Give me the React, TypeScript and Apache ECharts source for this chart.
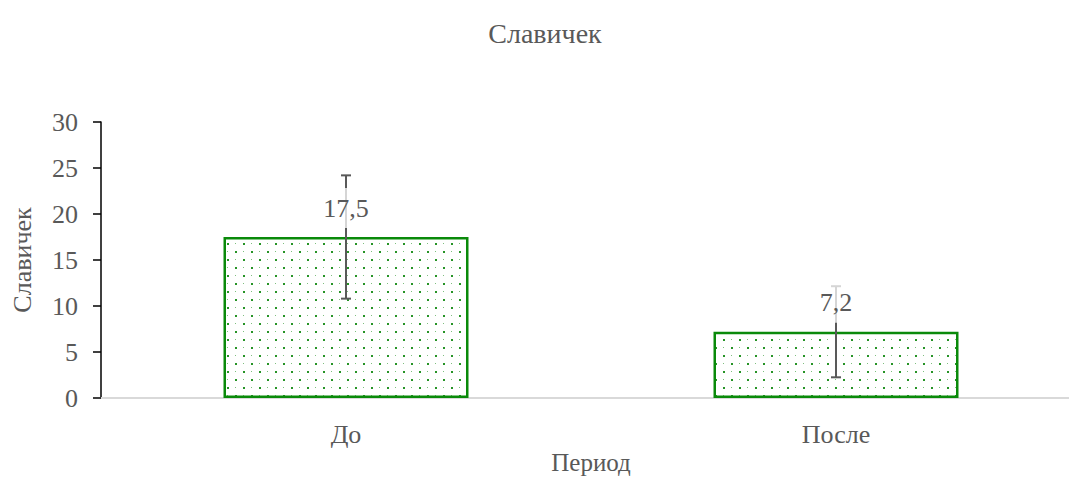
import React, { useEffect, useRef } from "react";
import * as echarts from "echarts";

const titleText = "Славичек";
const yAxisName = "Славичек";
const xAxisName = "Период";
const categories = ["До", "После"];
const values = [17.5, 7.2];
const errors = [6.7, 4.95];
const yTicks = { min: 0, max: 30, interval: 5 };

const FONT = "Liberation Serif, serif";
const GRAY = "#595959";

function makePattern(): HTMLCanvasElement {
  const c = document.createElement("canvas");
  c.width = 16;
  c.height = 16;
  const ctx = c.getContext("2d")!;
  ctx.fillStyle = "#ffffff";
  ctx.fillRect(0, 0, 16, 16);
  ctx.fillStyle = "rgba(0,128,0,0.85)";
  ctx.fillRect(3, 3, 2, 2);
  ctx.fillRect(11, 11, 2, 2);
  ctx.fillStyle = "rgba(0,128,0,0.5)";
  ctx.fillRect(11, 3, 1, 1);
  ctx.fillRect(3, 11, 1, 1);
  return c;
}

export default function App() {
  const ref = useRef<HTMLDivElement>(null);
  useEffect(() => {
    if (!ref.current) return;
    const chart = echarts.init(ref.current, null, { renderer: "svg" });
    const pattern = makePattern();
    const option: any = {
      animation: false,
      backgroundColor: "#ffffff",
      textStyle: { fontFamily: FONT },
      title: {
        text: titleText,
        left: 540,
        textAlign: "center",
        top: 14,
        textStyle: { fontFamily: FONT, fontSize: 28, fontWeight: "normal", color: GRAY },
      },
      grid: { left: 101, top: 122, width: 980, height: 276, outerBoundsMode: "none", containLabel: false },
      xAxis: {
        type: "category",
        data: categories,
        name: xAxisName,
        nameLocation: "middle",
        nameGap: 52,
        nameMoveOverlap: false,
        nameTextStyle: { fontFamily: FONT, fontSize: 25, color: GRAY, lineHeight: 25 },
        axisLine: { lineStyle: { color: "#d9d9d9", width: 2 } },
        axisTick: { show: false },
        axisLabel: { fontFamily: FONT, fontSize: 26, color: GRAY, margin: 23 },
      },
      yAxis: {
        type: "value",
        min: yTicks.min,
        max: yTicks.max,
        interval: yTicks.interval,
        name: yAxisName,
        nameLocation: "middle",
        nameGap: 66,
        nameTextStyle: { fontFamily: FONT, fontSize: 26, color: GRAY },
        axisLine: { show: true, lineStyle: { color: "#000000", width: 1.5 } },
        axisTick: { show: true, inside: false, length: 8, lineStyle: { color: "#000000", width: 1.5 } },
        axisLabel: { fontFamily: FONT, fontSize: 26, color: GRAY, margin: 23 },
        splitLine: { show: false },
      },
      series: [
        {
          type: "bar",
          data: values,
          barWidth: "50%",
          itemStyle: {
            color: { image: pattern, repeat: "repeat" },
            borderColor: "#0a8a0a",
            borderWidth: 2.5,
          },
          z: 2,
        },
        {
          type: "custom",
          z: 5,
          data: categories.map((c, i) => [i, values[i], errors[i]]),
          encode: { x: 0, y: 1 },
          renderItem: (params: any, api: any) => {
            const x = api.value(0);
            const v = api.value(1);
            const e = api.value(2);
            const hi = api.coord([x, v + e]);
            const lo = api.coord([x, v - e]);
            const top = api.coord([x, v]);
            const cw = 5;
            const ls = { stroke: "#595959", lineWidth: 2 };
            return {
              type: "group",
              children: [
                { type: "line", shape: { x1: hi[0], y1: hi[1], x2: lo[0], y2: lo[1] }, style: ls },
                { type: "line", shape: { x1: hi[0] - cw, y1: hi[1], x2: hi[0] + cw, y2: hi[1] }, style: ls },
                { type: "line", shape: { x1: lo[0] - cw, y1: lo[1], x2: lo[0] + cw, y2: lo[1] }, style: ls },
                {
                  type: "text",
                  style: {
                    text: String(v).replace(".", ","),
                    x: top[0],
                    y: top[1] - 29,
                    align: "center",
                    verticalAlign: "middle",
                    fontFamily: FONT,
                    fontSize: 26,
                    fill: GRAY,
                    backgroundColor: "rgba(255,255,255,0.75)",
                    padding: [8, 3, 6, 3],
                  },
                },
              ],
            };
          },
        },
      ],
    };
    chart.setOption(option);
    return () => chart.dispose();
  }, []);
  return (
    <div style={{ position: "fixed", left: 0, top: 0, width: 1069, height: 477, overflow: "hidden", background: "#fff" }}>
      <div ref={ref} style={{ width: 1100, height: 477 }} />
    </div>
  );
}
